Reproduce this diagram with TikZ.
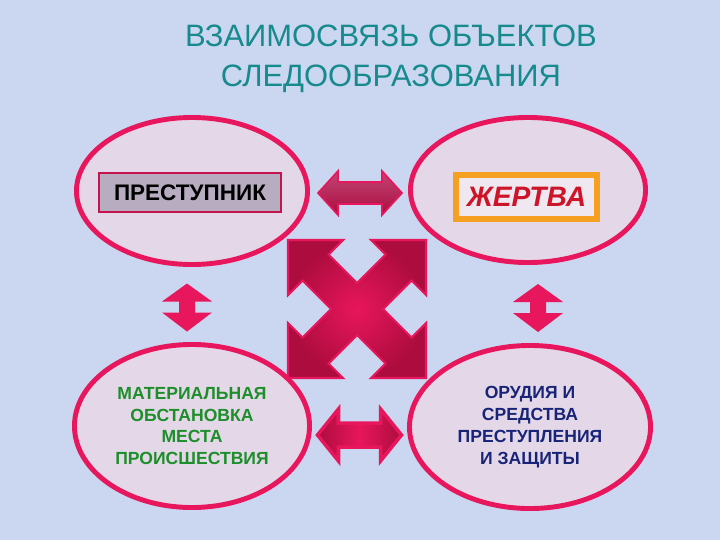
\documentclass[tikz,border=0pt]{standalone}
\usepackage{fontspec}
\setmainfont{Liberation Sans}
\usetikzlibrary{shapes.geometric,calc}
\definecolor{bgblue}{RGB}{203,215,240}
\definecolor{ovalred}{RGB}{232,22,92}
\definecolor{ovalfill}{RGB}{228,216,232}
\definecolor{darkmaroon}{RGB}{172,12,62}
\definecolor{dullmaroon}{RGB}{192,70,118}
\definecolor{titleteal}{RGB}{22,138,140}
\definecolor{labelgreen}{RGB}{28,142,42}
\definecolor{labelnavy}{RGB}{24,36,120}
\definecolor{boxgray}{RGB}{184,172,192}
\definecolor{boxorange}{RGB}{245,160,32}
\definecolor{victimred}{RGB}{205,20,40}
\tikzset{
  oval/.style = {ellipse, draw = ovalred, fill = ovalfill, line width = 3.5pt, inner sep = 0pt, align = center},
  ovaltext/.style = {font = \bfseries\fontsize{12.5}{15.5}\selectfont}
}
\begin{document}
\begin{tikzpicture}[x=0.025cm,y=-0.025cm]
    \fill[bgblue] (0,0) rectangle (720,540);
    \node[text = titleteal, align = center, font = \fontsize{22}{28.4}\selectfont] (title) at (391,59) {ВЗАИМОСВЯЗЬ ОБЪЕКТОВ\\СЛЕДООБРАЗОВАНИЯ};
    \node[oval, minimum width = 5.775cm, minimum height = 3.675cm] (perp) at (192,191) {};
    \node[oval, minimum width = 5.875cm, minimum height = 3.625cm] (victim) at (528,190) {};
    \node[oval, ovaltext, text = labelgreen, minimum width = 5.875cm, minimum height = 4.075cm] (scene) at (192,426) {МАТЕРИАЛЬНАЯ\\ОБСТАНОВКА\\МЕСТА\\ПРОИСШЕСТВИЯ};
    \node[oval, ovaltext, text = labelnavy, minimum width = 6.025cm, minimum height = 4.075cm] (tools) at (530,427) {ОРУДИЯ И\\СРЕДСТВА\\ПРЕСТУПЛЕНИЯ\\И ЗАЩИТЫ};
    \node[draw = ovalred!85!black, fill = boxgray, line width = 1.2pt, minimum width = 4.55cm, minimum height = 0.97cm, font = \bfseries\fontsize{16}{19}\selectfont] (perplabel) at ($(perp)+(-2,1.5)$) {ПРЕСТУПНИК};
    \node[draw = boxorange, fill = ovalfill!60!white, line width = 4pt, minimum width = 3.53cm, minimum height = 1.1cm, text = victimred, font = \bfseries\itshape\fontsize{20}{24}\selectfont] (victimlabel) at ($(victim)+(-1.5,7)$) {ЖЕРТВА};
    \begin{scope}[shift = {($(perp.east)!0.5!(victim.west)+(1,2.5)$)}]
        \shadedraw[top color = dullmaroon, bottom color = darkmaroon, draw = ovalred, line width = 1.2pt]
            (-42,0) -- (-22,-22) -- (-22,-11) -- (22,-11) -- (22,-22) -- (42,0) -- (22,22) -- (22,11) -- (-22,11) -- (-22,22) -- cycle;
    \end{scope}
    \begin{scope}[shift = {($(scene.east)!0.5!(tools.west)+(0,8.5)$)}]
        \shadedraw[left color = darkmaroon, right color = darkmaroon, middle color = ovalred, draw = ovalred, line width = 2.5pt]
            (-42,0) -- (-21,-26) -- (-21,-12) -- (21,-12) -- (21,-26) -- (42,0) -- (21,26) -- (21,12) -- (-21,12) -- (-21,26) -- cycle;
    \end{scope}
    \begin{scope}[style = {fill = ovalred}]
        \fill[shift = {($(perp.south)!0.5!(scene.north)+(-5,3)$)}]
            (0,-24) -- (25,-6) -- (8,-6) -- (8,5) -- (25,5) -- (0,24) -- (-25,5) -- (-8,5) -- (-8,-6) -- (-25,-6) -- cycle;
        \fill[shift = {($(victim.south)!0.5!(tools.north)+(9,4)$)}]
            (0,-24) -- (25,-6) -- (8,-6) -- (8,5) -- (25,5) -- (0,24) -- (-25,5) -- (-8,5) -- (-8,-6) -- (-25,-6) -- cycle;
    \end{scope}
    \coordinate (hub) at ($(perp)!0.5!(tools)+(-4,0)$);
    \begin{scope}[shift = {(hub)}, yscale = -1]
        \shadedraw[inner color = ovalred, outer color = darkmaroon, draw = ovalred, line width = 1.5pt]
            (0,26) -- (-28.5,54.5) -- (-14,69) -- (-69,69) -- (-69,14) -- (-54.5,28.5) -- (-26,0)
            -- (-54.5,-28.5) -- (-69,-14) -- (-69,-69) -- (-14,-69) -- (-28.5,-54.5) -- (0,-26)
            -- (28.5,-54.5) -- (14,-69) -- (69,-69) -- (69,-14) -- (54.5,-28.5) -- (26,0)
            -- (54.5,28.5) -- (69,14) -- (69,69) -- (14,69) -- (28.5,54.5) -- cycle;
    \end{scope}
\end{tikzpicture}
\end{document}
